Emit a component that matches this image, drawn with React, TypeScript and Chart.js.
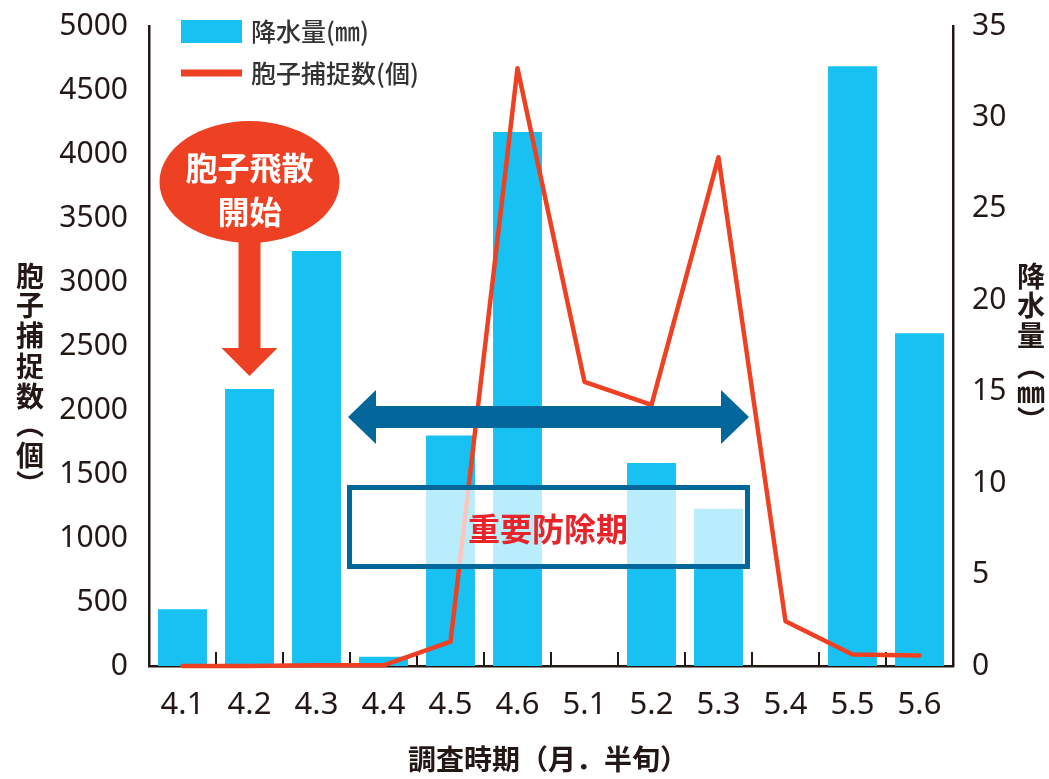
import { useEffect, useRef } from 'react';
import { Chart, registerables } from 'chart.js';

Chart.register(...registerables);

const categories = ['4.1', '4.2', '4.3', '4.4', '4.5', '4.6', '5.1', '5.2', '5.3', '5.4', '5.5', '5.6'];
const rainfall = [3.1, 15.15, 22.7, 0.5, 12.6, 29.2, 0, 11.1, 8.6, 0, 32.8, 18.2];
const spores = [0, 0, 5, 5, 190, 4670, 2220, 2040, 3975, 350, 90, 82];
const sporeAxis = { max: 5000, step: 500 };
const rainAxis = { max: 35, step: 5 };
const rainLabel = '降水量(㎜)';
const sporeLabel = '胞子捕捉数(個)';
const leftTitle = ['胞', '子', '捕', '捉', '数', '︵', '個', '︶'];
const rightTitle = ['降', '水', '量', '︵', '㎜', '︶'];
const xTitle = '調査時期（月．半旬）';
const bubbleLines = ['胞子飛散', '開始'];
const periodLabel = '重要防除期';

const BLUE = '#17c1f2';
const RED = '#ee4123';
const NAVY = '#03679b';
const INK = '#231815';
const FONT = '"Noto Sans", "Noto Sans CJK JP", sans-serif';
const CJK = '"Noto Sans CJK JP", sans-serif';

const overlay = {
  id: 'overlay',
  beforeDatasetsDraw(chart: any) {
    const ctx = chart.ctx;
    const xs = chart.scales.x;
    const bottom = chart.chartArea.bottom;
    ctx.save();
    ctx.strokeStyle = INK;
    ctx.lineWidth = 2;
    for (let i = 1; i < categories.length; i++) {
      const x = (xs.getPixelForValue(i - 1) + xs.getPixelForValue(i)) / 2;
      ctx.beginPath();
      ctx.moveTo(x, bottom);
      ctx.lineTo(x, bottom - 14);
      ctx.stroke();
    }
    ctx.restore();
  },
  afterDatasetsDraw(chart: any) {
    const ctx = chart.ctx;
    const xs = chart.scales.x;
    ctx.save();

    // bubble "胞子飛散開始"
    const bx = xs.getPixelForValue(1);
    ctx.fillStyle = RED;
    ctx.beginPath();
    ctx.ellipse(bx, 182, 90, 61, 0, 0, Math.PI * 2);
    ctx.fill();
    ctx.fillRect(bx - 11, 230, 22, 120);
    ctx.beginPath();
    ctx.moveTo(bx - 28, 348);
    ctx.lineTo(bx + 28, 348);
    ctx.lineTo(bx, 376);
    ctx.closePath();
    ctx.fill();
    ctx.fillStyle = '#ffffff';
    ctx.font = `bold 32px ${CJK}`;
    ctx.textAlign = 'center';
    ctx.textBaseline = 'middle';
    ctx.fillText(bubbleLines[0], bx, 168);
    ctx.fillText(bubbleLines[1], bx, 212);

    // double arrow
    const ax1 = 348, ax2 = 749, ay = 417;
    ctx.fillStyle = NAVY;
    ctx.beginPath();
    ctx.moveTo(ax1, ay);
    ctx.lineTo(ax1 + 28, ay - 27);
    ctx.lineTo(ax1 + 28, ay - 11);
    ctx.lineTo(ax2 - 28, ay - 11);
    ctx.lineTo(ax2 - 28, ay - 27);
    ctx.lineTo(ax2, ay);
    ctx.lineTo(ax2 - 28, ay + 27);
    ctx.lineTo(ax2 - 28, ay + 11);
    ctx.lineTo(ax1 + 28, ay + 11);
    ctx.lineTo(ax1 + 28, ay + 27);
    ctx.closePath();
    ctx.fill();

    // box
    ctx.fillStyle = 'rgba(255,255,255,0.7)';
    ctx.fillRect(349.5, 487.5, 398, 79);
    ctx.strokeStyle = NAVY;
    ctx.lineWidth = 5;
    ctx.strokeRect(349.5, 487.5, 398, 79);
    ctx.fillStyle = '#e8242b';
    ctx.font = `bold 32px ${CJK}`;
    ctx.fillText(periodLabel, 548, 529);

    ctx.restore();
  },
  afterDraw(chart: any) {
    const ctx = chart.ctx;
    ctx.save();
    // legend
    ctx.fillStyle = BLUE;
    ctx.fillRect(181, 20, 61, 23);
    ctx.strokeStyle = RED;
    ctx.lineWidth = 7;
    ctx.beginPath();
    ctx.moveTo(181, 73);
    ctx.lineTo(242, 73);
    ctx.stroke();
    ctx.fillStyle = '#333333';
    ctx.font = `500 25px ${CJK}`;
    ctx.textAlign = 'left';
    ctx.textBaseline = 'middle';
    ctx.fillText(rainLabel, 251, 31);
    ctx.fillText(sporeLabel, 251, 73);

    // vertical axis titles
    ctx.fillStyle = INK;
    ctx.textAlign = 'center';
    ctx.font = `bold 28px ${CJK}`;
    const leftY = [276, 305, 335, 366, 396, 424, 455, 484];
    leftTitle.forEach((c, i) => ctx.fillText(c, 30, leftY[i]));
    const rightY = [276, 305, 335, 366, 392, 420];
    rightTitle.forEach((c, i) => ctx.fillText(c, 1031, rightY[i]));

    // x title
    ctx.font = `bold 28px ${CJK}`;
    ctx.fillText(xTitle, 548, 759);
    ctx.restore();
  },
};

export default function App() {
  const ref = useRef<HTMLCanvasElement>(null);
  useEffect(() => {
    document.body.style.margin = '0';
    const chart = new Chart(ref.current as HTMLCanvasElement, {
      type: 'bar',
      data: {
        labels: categories,
        datasets: [
          {
            type: 'line',
            label: sporeLabel,
            data: spores,
            yAxisID: 'y',
            borderColor: RED,
            backgroundColor: RED,
            borderWidth: 4.5,
            borderJoinStyle: 'round',
            borderCapStyle: 'round',
            pointRadius: 0,
            tension: 0,
            clip: false,
            order: 1,
          } as any,
          {
            type: 'bar',
            label: rainLabel,
            data: rainfall,
            yAxisID: 'y1',
            backgroundColor: BLUE,
            categoryPercentage: 1,
            barPercentage: 0.73,
            order: 2,
          },
        ],
      },
      options: {
        responsive: false,
        animation: false,
        layout: { padding: { top: 26, left: 0, right: 0, bottom: 0 } },
        plugins: { legend: { display: false }, tooltip: { enabled: false } },
        scales: {
          x: {
            grid: { display: false },
            border: { display: true, color: INK, width: 2.5 },
            ticks: { color: INK, font: { family: FONT, size: 31 }, padding: 13 },
            afterFit: (s: any) => { s.height = 113; s.paddingLeft = 0; s.paddingRight = 0; },
          },
          y: {
            position: 'left',
            min: 0,
            max: sporeAxis.max,
            ticks: {
              stepSize: sporeAxis.step,
              color: INK,
              font: { family: FONT, size: 30 },
              padding: 13,
              callback: (v: any) => String(v),
            },
            grid: { display: false },
            border: { display: true, color: INK, width: 2.5 },
            afterFit: (s: any) => { s.width = 149; s.paddingTop = 0; s.paddingBottom = 0; },
          },
          y1: {
            position: 'right',
            min: 0,
            max: rainAxis.max,
            ticks: {
              stepSize: rainAxis.step,
              color: INK,
              font: { family: FONT, size: 30 },
              padding: 11,
              callback: (v: any) => String(v),
            },
            grid: { display: false },
            border: { display: true, color: INK, width: 2.5 },
            afterFit: (s: any) => { s.width = 96; s.paddingTop = 0; s.paddingBottom = 0; },
          },
        },
      },
      plugins: [overlay],
    });
    return () => chart.destroy();
  }, []);
  return <canvas ref={ref} width={1049} height={779} style={{ display: 'block' }} />;
}
